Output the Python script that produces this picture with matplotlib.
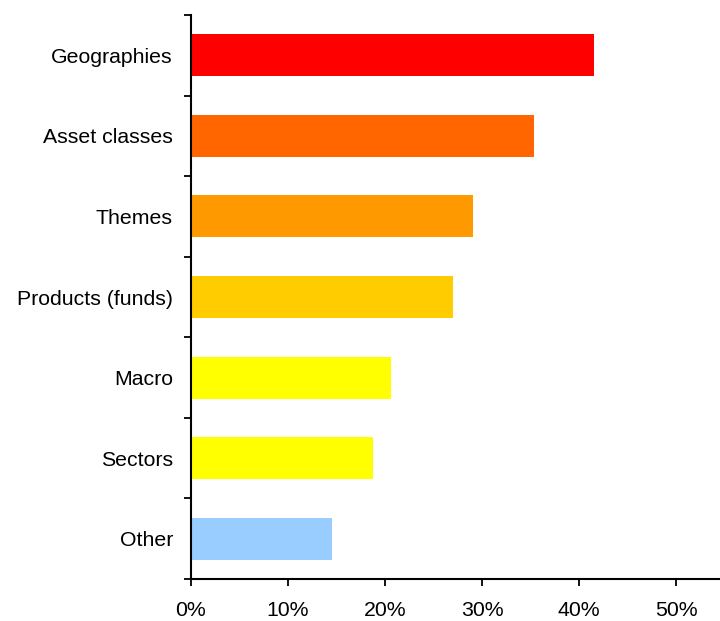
import matplotlib.pyplot as plt
from matplotlib.ticker import FuncFormatter, FixedLocator

plt.rcParams['font.family'] = ['Liberation Sans', 'DejaVu Sans']

categories = ['Geographies', 'Asset classes', 'Themes', 'Products (funds)',
              'Macro', 'Sectors', 'Other']
shares = [0.415, 0.353, 0.291, 0.270, 0.206, 0.187, 0.145]
bar_colors = ['#FF0000', '#FF6600', '#FF9900', '#FFCC00',
              '#FFFF00', '#FFFF00', '#99CCFF']
x_ticks = [0, 0.1, 0.2, 0.3, 0.4, 0.5]

fig = plt.figure(figsize=(7.2, 6.21), dpi=100)
ax = fig.add_axes([191 / 720, 1 - 579 / 621, 1 - 191 / 720, (579 - 15) / 621])

pos = list(range(len(categories)))
ax.barh(pos, shares, height=0.52, color=bar_colors, zorder=2)

ax.set_ylim(len(categories) - 0.5, -0.5)
ax.set_xlim(0, 0.545)

# category boundaries get the tick marks, labels sit on the bar centres
ax.yaxis.set_major_locator(FixedLocator([p - 0.5 for p in range(len(categories) + 1)]))
ax.yaxis.set_major_formatter(FuncFormatter(lambda v, _: ''))
ax.yaxis.set_minor_locator(FixedLocator(pos))
ax.set_yticklabels(categories, minor=True)
ax.tick_params(axis='y', which='major', length=5, width=1.3, direction='out')
ax.tick_params(axis='y', which='minor', length=0, pad=13, labelsize=15.3)

ax.set_xticks(x_ticks)
ax.xaxis.set_major_formatter(FuncFormatter(lambda v, _: f'{v * 100:.0f}%'))
ax.tick_params(axis='x', length=5, width=1.3, direction='out', pad=11, labelsize=15.3)

for s in ['top', 'right']:
    ax.spines[s].set_visible(False)
for s in ['left', 'bottom']:
    ax.spines[s].set_linewidth(1.5)
    ax.spines[s].set_color('black')

fig.savefig('out.png', dpi=100)
